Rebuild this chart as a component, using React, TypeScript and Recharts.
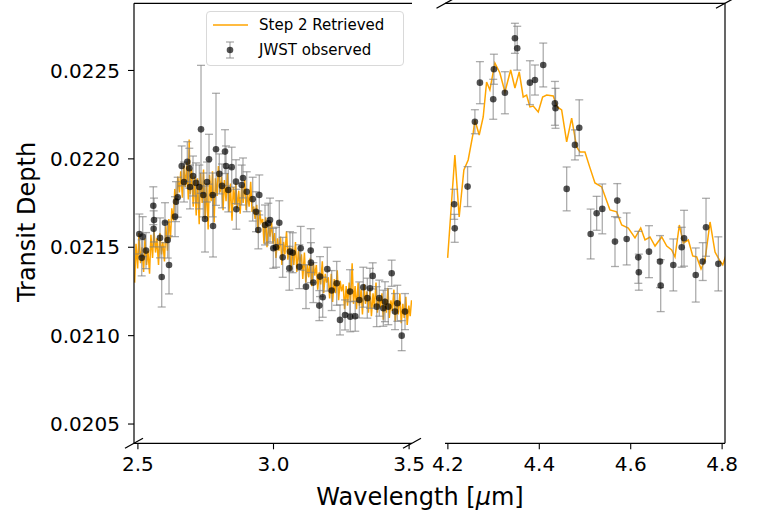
import { ComposedChart, ErrorBar, Line, Scatter, XAxis, YAxis } from "recharts";

// observed spectrum: [wavelength (um), transit depth, 1-sigma error]
const leftObs: [number, number, number][] = [
  [2.5052, 0.021575, 0.000113], [2.514, 0.02144, 0.000102], [2.5177, 0.02156, 0.000113],
  [2.5299, 0.021481, 0.000102], [2.5568, 0.021735, 0.000107], [2.558, 0.021604, 0.000102],
  [2.5594, 0.021654, 0.000124], [2.5815, 0.021553, 0.000113], [2.5878, 0.021332, 0.00017],
  [2.5999, 0.021639, 0.000113], [2.6099, 0.021541, 0.000102], [2.6147, 0.0214, 0.000164],
  [2.6368, 0.021673, 0.000113], [2.6405, 0.021758, 0.000113], [2.6468, 0.021783, 0.000113],
  [2.6615, 0.02196, 0.000113], [2.67, 0.021869, 0.000113], [2.6822, 0.021984, 0.000113],
  [2.6895, 0.021947, 0.000113], [2.6921, 0.021841, 0.000124], [2.7032, 0.021903, 0.000113],
  [2.7142, 0.021864, 0.000113], [2.7264, 0.021841, 0.000124], [2.7327, 0.022167, 0.000362],
  [2.7411, 0.021796, 0.000124], [2.7474, 0.02166, 0.000187], [2.7548, 0.021869, 0.000113],
  [2.7622, 0.021998, 0.000141], [2.7758, 0.021796, 0.000124], [2.777, 0.02162, 0.000175],
  [2.788, 0.022054, 0.000317], [2.8001, 0.021915, 0.000113], [2.8101, 0.021847, 0.000124],
  [2.8212, 0.022041, 0.000124], [2.8249, 0.02196, 0.000113], [2.8333, 0.021824, 0.000124],
  [2.8459, 0.021953, 0.000113], [2.8617, 0.021871, 0.000124], [2.863, 0.021715, 0.000113],
  [2.8827, 0.021852, 0.000113], [2.8875, 0.021892, 0.000113], [2.9012, 0.021814, 0.000113],
  [2.9233, 0.021772, 0.000124], [2.9355, 0.021701, 0.000113], [2.944, 0.021598, 0.000107],
  [2.9476, 0.021796, 0.000113], [2.9687, 0.021626, 0.000113], [2.9808, 0.021636, 0.000113],
  [2.9871, 0.021654, 0.000124], [2.9993, 0.021494, 0.000113], [3.0092, 0.0215, 0.000113],
  [3.0214, 0.021639, 0.000124], [3.0339, 0.021443, 0.000113], [3.0583, 0.021381, 0.000124],
  [3.0608, 0.021475, 0.000113], [3.0708, 0.021469, 0.000113], [3.0951, 0.02139, 0.000124],
  [3.1003, 0.021494, 0.000124], [3.1198, 0.021277, 0.000124], [3.1372, 0.021481, 0.000124],
  [3.138, 0.021413, 0.000113], [3.1468, 0.0213, 0.000113], [3.1689, 0.02117, 0.000085],
  [3.1715, 0.021334, 0.000113], [3.1814, 0.021217, 0.000113], [3.1984, 0.021376, 0.000124],
  [3.2146, 0.021255, 0.000113], [3.233, 0.021296, 0.000124], [3.2452, 0.021089, 0.000085],
  [3.2637, 0.021117, 0.000085], [3.2821, 0.021249, 0.000124], [3.283, 0.021107, 0.000085],
  [3.3013, 0.02111, 0.000085], [3.3164, 0.021202, 0.000102], [3.3311, 0.021274, 0.000113],
  [3.3459, 0.021212, 0.000113], [3.3558, 0.021268, 0.000113], [3.3658, 0.021338, 0.000074],
  [3.3805, 0.021164, 0.000113], [3.3901, 0.021212, 0.000102], [3.4049, 0.021155, 0.000102],
  [3.4111, 0.021192, 0.000113], [3.4233, 0.021164, 0.000102], [3.4358, 0.021353, 0.000074],
  [3.448, 0.021136, 0.000102], [3.4565, 0.021183, 0.000102], [3.4727, 0.021, 0.000085],
  [3.4849, 0.021136, 0.000102],
];

const rightObs: [number, number, number][] = [
  [4.2138, 0.021743, 0.000085], [4.215, 0.021607, 0.000079], [4.2431, 0.021843, 0.000113],
  [4.2591, 0.02221, 0.000068], [4.2701, 0.022431, 0.000119], [4.2992, 0.022337, 0.000113],
  [4.3007, 0.022507, 0.000085], [4.3248, 0.022374, 0.000119], [4.3467, 0.022682, 0.000085],
  [4.3517, 0.022626, 0.000124], [4.3795, 0.022431, 0.000124], [4.3905, 0.022446, 0.000085],
  [4.4086, 0.022531, 0.000124], [4.4342, 0.022314, 0.000124], [4.4355, 0.022286, 0.000113],
  [4.4599, 0.02183, 0.000124], [4.478, 0.022079, 0.000085], [4.4874, 0.022176, 0.000158],
  [4.5124, 0.021575, 0.000141], [4.5255, 0.021692, 0.000096], [4.5378, 0.021717, 0.000141],
  [4.5656, 0.021532, 0.000141], [4.5706, 0.021764, 0.000096], [4.5912, 0.021547, 0.000147],
  [4.6166, 0.021443, 0.000147], [4.6178, 0.021359, 0.000102], [4.64, 0.021475, 0.000147],
  [4.6641, 0.021419, 0.000147], [4.6656, 0.021283, 0.000147], [4.6932, 0.0214, 0.000147],
  [4.7116, 0.0215, 0.000113], [4.7167, 0.021551, 0.000158], [4.7423, 0.021343, 0.000153],
  [4.7576, 0.021419, 0.000107], [4.7648, 0.021613, 0.000164], [4.7917, 0.021406, 0.000153],
];

// retrieved model spectrum: [wavelength, depth]
const leftModel: [number, number][] = [
  [2.488, 0.0213], [2.493, 0.02152], [2.499, 0.02138], [2.504, 0.02158], [2.51, 0.02141],
  [2.515, 0.0215], [2.521, 0.02136], [2.526, 0.02155], [2.532, 0.0214], [2.537, 0.02148],
  [2.543, 0.02135], [2.548, 0.02157], [2.554, 0.02144], [2.559, 0.0216], [2.565, 0.02147],
  [2.57, 0.02155], [2.576, 0.0214], [2.581, 0.02158], [2.587, 0.02146], [2.592, 0.02153],
  [2.598, 0.02142], [2.603, 0.02162], [2.609, 0.02148], [2.614, 0.02166], [2.62, 0.02155],
  [2.625, 0.02172], [2.631, 0.02165], [2.636, 0.02183], [2.642, 0.02174], [2.647, 0.0219],
  [2.653, 0.02181], [2.658, 0.02193], [2.664, 0.02178], [2.669, 0.02196], [2.675, 0.02184],
  [2.68, 0.02198], [2.686, 0.02177], [2.689, 0.02211], [2.693, 0.0218], [2.698, 0.02194],
  [2.704, 0.02173], [2.709, 0.0219], [2.715, 0.02168], [2.72, 0.02189], [2.726, 0.02163],
  [2.731, 0.02192], [2.737, 0.02175], [2.742, 0.02194], [2.748, 0.02166], [2.753, 0.02186],
  [2.759, 0.0216], [2.764, 0.02191], [2.77, 0.02176], [2.775, 0.02193], [2.781, 0.02164],
  [2.786, 0.02189], [2.792, 0.02179], [2.797, 0.02196], [2.803, 0.02181], [2.808, 0.0219],
  [2.814, 0.02171], [2.819, 0.02188], [2.825, 0.02176], [2.83, 0.02192], [2.836, 0.0217],
  [2.841, 0.02186], [2.847, 0.02165], [2.852, 0.02184], [2.858, 0.02174], [2.861, 0.02186],
  [2.866, 0.02172], [2.872, 0.02182], [2.877, 0.02169], [2.883, 0.02185], [2.888, 0.02175],
  [2.894, 0.02188], [2.899, 0.02171], [2.905, 0.0218], [2.91, 0.02173], [2.916, 0.02187],
  [2.921, 0.0217], [2.927, 0.02173], [2.932, 0.02166], [2.938, 0.02174], [2.943, 0.02158],
  [2.949, 0.02171], [2.954, 0.02164], [2.96, 0.02166], [2.965, 0.02152], [2.971, 0.02167],
  [2.976, 0.0215], [2.982, 0.02163], [2.987, 0.02156], [2.993, 0.02164], [2.998, 0.02152],
  [3.004, 0.02158], [3.009, 0.02144], [3.015, 0.02155], [3.02, 0.02148], [3.026, 0.02156],
  [3.031, 0.0214], [3.037, 0.02153], [3.042, 0.02146], [3.048, 0.02159], [3.053, 0.02143],
  [3.059, 0.02151], [3.064, 0.02137], [3.07, 0.0215], [3.075, 0.0214], [3.081, 0.02153],
  [3.086, 0.02136], [3.092, 0.02148], [3.097, 0.02141], [3.103, 0.02146], [3.108, 0.02132],
  [3.114, 0.02147], [3.119, 0.0213], [3.125, 0.0214], [3.13, 0.02133], [3.136, 0.02144],
  [3.141, 0.02128], [3.147, 0.02141], [3.152, 0.02134], [3.158, 0.0214], [3.163, 0.02126],
  [3.169, 0.02136], [3.174, 0.02129], [3.18, 0.02142], [3.185, 0.02124], [3.191, 0.02135],
  [3.196, 0.0213], [3.202, 0.02133], [3.207, 0.02121], [3.213, 0.02135], [3.218, 0.02119],
  [3.224, 0.02132], [3.229, 0.02124], [3.235, 0.02137], [3.24, 0.0212], [3.246, 0.02131],
  [3.251, 0.02125], [3.257, 0.02129], [3.262, 0.02115], [3.268, 0.02128], [3.273, 0.02117],
  [3.279, 0.0213], [3.284, 0.02119], [3.29, 0.02141], [3.295, 0.02118], [3.301, 0.02128],
  [3.306, 0.02115], [3.312, 0.0213], [3.317, 0.02117], [3.323, 0.02126], [3.328, 0.02112],
  [3.334, 0.02129], [3.339, 0.02118], [3.345, 0.02125], [3.35, 0.02113], [3.356, 0.02127],
  [3.361, 0.02111], [3.367, 0.02124], [3.372, 0.02116], [3.378, 0.0213], [3.383, 0.02113],
  [3.389, 0.02122], [3.394, 0.02116], [3.4, 0.02124], [3.405, 0.02109], [3.411, 0.02121],
  [3.416, 0.02113], [3.422, 0.02127], [3.427, 0.0211], [3.433, 0.0212], [3.438, 0.02114],
  [3.444, 0.02126], [3.449, 0.02108], [3.455, 0.0212], [3.46, 0.02112], [3.466, 0.02124],
  [3.471, 0.02107], [3.477, 0.02118], [3.482, 0.0211], [3.488, 0.02122], [3.493, 0.02106],
  [3.499, 0.02117], [3.504, 0.02111], [3.509, 0.0212],
];

const rightModel: [number, number][] = [
  [4.1995, 0.02144], [4.2153, 0.022022], [4.2247, 0.021671], [4.235, 0.021937], [4.2444, 0.021994],
  [4.2554, 0.022147], [4.2591, 0.02222], [4.2685, 0.022135], [4.2773, 0.022237], [4.2847, 0.022435],
  [4.2919, 0.02239], [4.3029, 0.022542], [4.3138, 0.022486], [4.3248, 0.022378], [4.3373, 0.022503],
  [4.3467, 0.022401], [4.3561, 0.022492], [4.3648, 0.02235], [4.3723, 0.022361], [4.3795, 0.022294],
  [4.3867, 0.022299], [4.3977, 0.022265], [4.4073, 0.02235], [4.4161, 0.022361], [4.4305, 0.022356],
  [4.4393, 0.022294], [4.4489, 0.022277], [4.4599, 0.022096], [4.4708, 0.022231], [4.4817, 0.022067],
  [4.489, 0.022039], [4.4999, 0.022039], [4.5109, 0.021949], [4.5218, 0.021864], [4.5365, 0.021841],
  [4.5546, 0.021711], [4.5693, 0.0217], [4.5803, 0.021626], [4.5947, 0.021609], [4.6094, 0.021553],
  [4.6219, 0.021609], [4.6313, 0.021541], [4.6422, 0.021558], [4.6532, 0.021507], [4.6678, 0.021558],
  [4.6788, 0.021507], [4.6897, 0.021485], [4.6969, 0.021445], [4.7064, 0.021626], [4.7151, 0.021524],
  [4.7261, 0.021541], [4.7357, 0.021451], [4.7444, 0.021445], [4.7539, 0.021377], [4.7626, 0.021428],
  [4.7736, 0.021643], [4.7845, 0.021473], [4.7939, 0.021428], [4.8014, 0.0214], [4.8086, 0.021456],
];

const leftTicks = [2.5, 3.0, 3.5];
const rightTicks = [4.2, 4.4, 4.6, 4.8];
const depthTicks = [0.0205, 0.021, 0.0215, 0.022, 0.0225];
const leftDomain = [2.4856, 3.5107];
const rightDomain = [4.1937, 4.8063];
const depthDomain = [0.020391, 0.02288];
const seriesNames = ["Step 2 Retrieved", "JWST observed"];

const FONT = "DejaVu Sans";
const toObs = (rows: [number, number, number][]) => rows.map(([w, d, e]) => ({ w, d, e }));
const toModel = (rows: [number, number][]) => rows.map(([w, d]) => ({ w, d }));

const Dot = (props: any) => (
  <circle cx={props.cx} cy={props.cy} r={3.3} fill="#000" fillOpacity={0.68} />
);

const axisProps = {
  axisLine: { stroke: "#000", strokeWidth: 1.2 },
  tickLine: { stroke: "#000", strokeWidth: 1.1 },
  tickSize: 6,
  tick: { fill: "#000", fontSize: 20, fontFamily: FONT },
};

const Panel = ({ obs, model, domain, ticks, side }: any) => {
  const isLeft = side === "left";
  return (
    <ComposedChart
      width={isLeft ? 432 : 339}
      height={516}
      margin={{ top: 3.3, right: isLeft ? 20 : 0, bottom: 42.7, left: isLeft ? 0 : 20 }}
    >
      <XAxis
        type="number"
        dataKey="w"
        domain={domain}
        ticks={ticks}
        interval={0}
        allowDataOverflow
        height={30}
        tickMargin={7}
        tickFormatter={(v: number) => v.toFixed(1)}
        {...axisProps}
      />
      <YAxis
        type="number"
        domain={depthDomain}
        ticks={depthTicks}
        interval={0}
        allowDataOverflow
        orientation={isLeft ? "left" : "right"}
        width={isLeft ? 134 : 39}
        tickMargin={8}
        tickFormatter={(v: number) => v.toFixed(4)}
        {...axisProps}
        tick={isLeft ? axisProps.tick : false}
      />
      <Line
        data={toModel(model)}
        dataKey="d"
        type="linear"
        stroke="#FFA500"
        strokeWidth={1.5}
        dot={false}
        isAnimationActive={false}
      />
      <Scatter data={toObs(obs)} dataKey="d" shape={Dot} isAnimationActive={false}>
        <ErrorBar dataKey="e" direction="y" width={4} stroke="#808080" strokeOpacity={0.65} strokeWidth={1.3} />
      </Scatter>
    </ComposedChart>
  );
};

// break marks at panel corners
const breaks = [
  [134, 443.3], [412, 443.3], [445.5, 3.3], [725, 3.3],
];

export default function App() {
  return (
    <div style={{ position: "absolute", left: 0, top: 0, width: 764, height: 516, background: "#fff" }}>
      <div style={{ position: "absolute", left: 0, top: 0 }}>
        <Panel obs={leftObs} model={leftModel} domain={leftDomain} ticks={leftTicks} side="left" />
      </div>
      <div style={{ position: "absolute", left: 425, top: 0 }}>
        <Panel obs={rightObs} model={rightModel} domain={rightDomain} ticks={rightTicks} side="right" />
      </div>
      <svg width={764} height={516} style={{ position: "absolute", left: 0, top: 0, pointerEvents: "none" }}>
        <line x1={134} y1={3.3} x2={412} y2={3.3} stroke="#000" strokeWidth={1.2} />
        <line x1={445} y1={3.3} x2={725} y2={3.3} stroke="#000" strokeWidth={1.2} />
        {breaks.map(([cx, cy], i) => (
          <line key={i} x1={cx - 9} y1={cy + 5} x2={cx + 9} y2={cy - 5} stroke="#000" strokeWidth={1.3} />
        ))}
        <text
          x={27}
          y={222}
          transform="rotate(-90 27 222)"
          textAnchor="middle"
          dominantBaseline="central"
          fontFamily={FONT}
          fontSize={24}
        >
          Transit Depth
        </text>
        <text x={420} y={497} textAnchor="middle" dominantBaseline="central" fontFamily={FONT} fontSize={24}>
          Wavelength [<tspan fontStyle="italic">μ</tspan>m]
        </text>
      </svg>
      <div
        style={{
          position: "absolute",
          left: 206,
          top: 11,
          width: 196,
          height: 53,
          border: "1px solid #d9d9d9",
          borderRadius: 4,
          background: "rgba(255,255,255,0.8)",
          fontFamily: FONT,
          fontSize: 15,
          color: "#000",
        }}
      >
        <svg width={50} height={53} style={{ position: "absolute", left: 0, top: 0 }}>
          <line x1={6} y1={13} x2={41} y2={13} stroke="#FFA500" strokeWidth={1.6} />
          <line x1={23} y1={30} x2={23} y2={46} stroke="#808080" strokeOpacity={0.65} strokeWidth={1.3} />
          <line x1={19} y1={30} x2={27} y2={30} stroke="#808080" strokeOpacity={0.65} strokeWidth={1.3} />
          <line x1={19} y1={46} x2={27} y2={46} stroke="#808080" strokeOpacity={0.65} strokeWidth={1.3} />
          <circle cx={23} cy={38} r={3.3} fill="#000" fillOpacity={0.68} />
        </svg>
        <div style={{ position: "absolute", left: 52, top: 3, lineHeight: "20px" }}>{seriesNames[0]}</div>
        <div style={{ position: "absolute", left: 52, top: 28, lineHeight: "20px" }}>{seriesNames[1]}</div>
      </div>
    </div>
  );
}
